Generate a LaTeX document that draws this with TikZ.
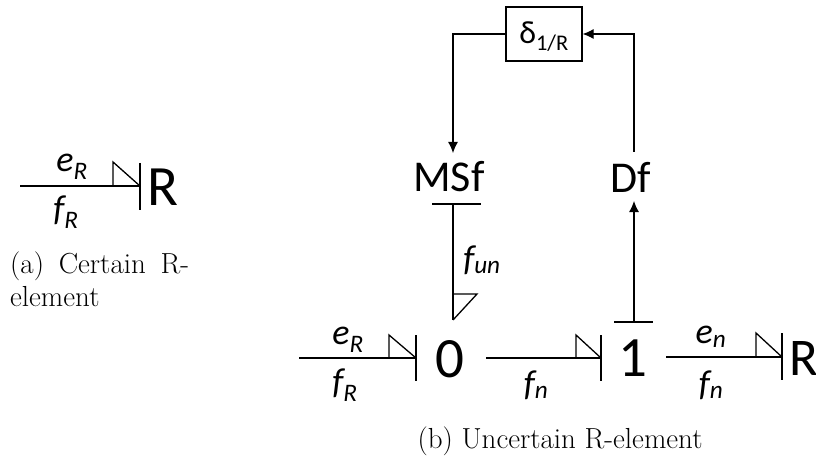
\documentclass[tikz,border=0pt]{standalone}
\usepackage{fontspec}
\newfontfamily\calf{Carlito}
\usetikzlibrary{arrows.meta,calc}
\tikzset{
  x=1pt,y=-1pt,
  bond/.style={draw=black,line width=1.3pt},
  sym/.style={inner sep=0pt,anchor=center,font=\calf\fontsize{57}{57}\selectfont},
  lab/.style={inner sep=0pt,anchor=center,font=\calf\itshape\fontsize{36}{36}\selectfont},
  capt/.style={inner sep=0pt,anchor=base west,align=left,font=\fontsize{29}{33}\selectfont},
  sig/.style={draw=black,line width=1.1pt,-{Latex[length=11pt,width=10pt]}}
}
\begin{document}
\begin{tikzpicture}
\useasboundingbox (0,0) rectangle (816,457);
% (a)
\coordinate (a0) at (20,186); \coordinate (a1) at (140,186);
\draw[bond] (a0) -- (a1);
\draw[bond] (140,163) -- (140,210);
\draw[bond] (113,186) -- (113,162) -- (a1);
\node[sym] (ar) at (163,187) {R};
\node[lab] (ae) at (72,167) {e\textsubscript{R}};
\node[lab] (af) at (66,212) {f\textsubscript{R}};
\node[capt] (acap) at (10,306) {\makebox[179pt][s]{(a) Certain R-}\\element};
% (b) lower row
\coordinate (b0) at (299,358); \coordinate (b1) at (416,358);
\draw[bond] (b0) -- (b1);
\draw[bond] (416,335) -- (416,381);
\draw[bond] (389,358) -- (389,335) -- (b1);
\node[sym] (zero) at (450,359) {0};
\node[lab] (be) at (348,340) {e\textsubscript{R}};
\node[lab] (bf) at (345,385) {f\textsubscript{R}};
\coordinate (c0) at (486,358); \coordinate (c1) at (601,358);
\draw[bond] (c0) -- (c1);
\draw[bond] (601,335) -- (601,381);
\draw[bond] (576,358) -- (576,335) -- (c1);
\node[lab] (cf) at (536,385) {f\textsubscript{n}};
\node[sym] (one) at (633,358) {1};
\coordinate (d0) at (666,357); \coordinate (d1) at (782,357);
\draw[bond] (d0) -- (d1);
\draw[bond] (782,333) -- (782,380);
\draw[bond] (756,357) -- (756,333) -- (d1);
\node[lab] (de) at (711,337) {e\textsubscript{n}};
\node[lab] (df) at (711,385) {f\textsubscript{n}};
\node[sym,font=\calf\fontsize{53}{53}\selectfont] (rr) at (803.5,358) {R};
% vertical
\node[sym,font=\calf\fontsize{44}{44}\selectfont] (msf) at (449,177) {MSf};
\node[sym,font=\calf\fontsize{44}{44}\selectfont] (dfn) at (631,177) {Df};
\draw[bond] (432,204) -- (481,204);
\coordinate (v0) at (453,204); \coordinate (v1) at (453,320);
\draw[bond] (v0) -- (v1);
\draw[bond] (453,294) -- (477,294) -- (v1);
\node[lab] (fun) at (482,260) {f\textsubscript{un}};
\draw[bond] (614,322) -- (653,322);
\coordinate (w0) at (634,322); \coordinate (w1) at (634,201);
\draw[sig] (w0) -- (w1);
% block
\node[draw=black,line width=1.2pt,minimum width=76pt,minimum height=54pt,inner sep=0pt] (box) at (544,34) {};
\node[inner sep=0pt,font=\calf\fontsize{32}{32}\selectfont] (dl) at (544,37) {δ\textsubscript{1/R}};
\coordinate (m) at (453,153);
\draw[sig] (box.west) -- (453,34) -- (m);
\coordinate (n) at (634,152);
\draw[sig] (n) -- (634,34) -- (box.east);
\node[capt,anchor=base] (bcap) at (560,448) {(b) Uncertain R-element};
\end{tikzpicture}
\end{document}
